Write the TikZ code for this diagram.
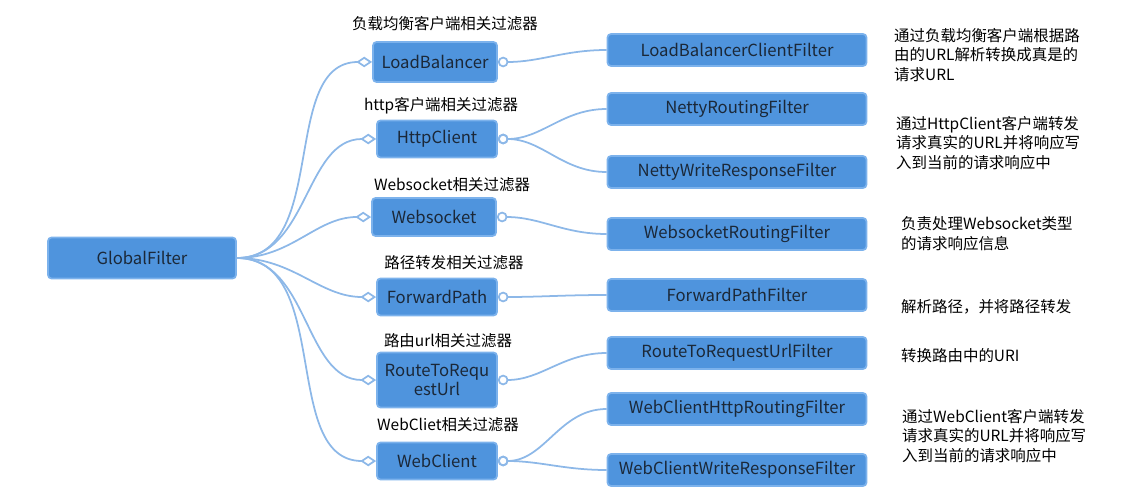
\documentclass[tikz,border=0pt]{standalone}
\usepackage{fontspec}
\setmainfont{Noto Sans CJK SC}
\usetikzlibrary{arrows.meta}
\definecolor{boxblue}{HTML}{4F94DD}
\definecolor{boxedge}{HTML}{7CB2EC}
\definecolor{linkblue}{HTML}{8DB8E8}
\definecolor{inktext}{HTML}{1B2838}

\begin{document}
\begin{tikzpicture}[x=0.02cm,y=-0.02cm,
  box/.style={draw=boxedge,line width=1pt,fill=boxblue,rounded corners=2pt,text=inktext,font=\fontsize{9.5}{11}\selectfont,align=center,inner sep=0pt},
  grouptitle/.style={font=\fontsize{8.8}{10}\selectfont,text=black},
  desc/.style={font=\fontsize{8.8}{11.3}\selectfont,align=left,anchor=west,text=black},
  tochild/.style={draw=linkblue,line width=1pt,-{Diamond[open,length=9pt,width=6pt]}},
  tofilter/.style={draw=linkblue,line width=1pt,{Circle[open,length=6pt]}-}]
  \useasboundingbox (0,0) rectangle (1129,500);

  %root
  \node[box,minimum width=188*0.02cm,minimum height=41*0.02cm] (gf) at (142,258) {GlobalFilter};

  %groups
  \node[box,minimum width=124*0.02cm,minimum height=40*0.02cm] (lb) at (435,62) {LoadBalancer};
  \node[grouptitle] (lbc) at (445,24) {负载均衡客户端相关过滤器};
  \node[box,minimum width=120*0.02cm,minimum height=37*0.02cm] (hc) at (437,139) {HttpClient};
  \node[grouptitle] (hcc) at (441,106) {http客户端相关过滤器};
  \node[box,minimum width=124*0.02cm,minimum height=38*0.02cm] (ws) at (434,217) {Websocket};
  \node[grouptitle] (wsc) at (452,185) {Websocket相关过滤器};
  \node[box,minimum width=120*0.02cm,minimum height=37*0.02cm] (fp) at (437,297) {ForwardPath};
  \node[grouptitle] (fpc) at (454,263) {路径转发相关过滤器};
  \node[box,minimum width=120*0.02cm,minimum height=55*0.02cm] (rt) at (437,380) {RouteToRequ\\estUrl};
  \node[grouptitle] (rtc) at (448,341) {路由url相关过滤器};
  \node[box,minimum width=120*0.02cm,minimum height=37*0.02cm] (wc) at (437,461) {WebClient};
  \node[grouptitle] (wcc) at (448,425) {WebCliet相关过滤器};

  %filters
  \node[box,minimum width=259*0.02cm,minimum height=32*0.02cm] (f1) at (737,50) {LoadBalancerClientFilter};
  \node[box,minimum width=259*0.02cm,minimum height=32*0.02cm] (f2) at (737,109) {NettyRoutingFilter};
  \node[box,minimum width=259*0.02cm,minimum height=32*0.02cm] (f3) at (737,172) {NettyWriteResponseFilter};
  \node[box,minimum width=259*0.02cm,minimum height=32*0.02cm] (f4) at (737,234) {WebsocketRoutingFilter};
  \node[box,minimum width=259*0.02cm,minimum height=32*0.02cm] (f5) at (737,295) {ForwardPathFilter};
  \node[box,minimum width=259*0.02cm,minimum height=32*0.02cm] (f6) at (737,353) {RouteToRequestUrlFilter};
  \node[box,minimum width=259*0.02cm,minimum height=32*0.02cm] (f7) at (737,409) {WebClientHttpRoutingFilter};
  \node[box,minimum width=259*0.02cm,minimum height=32*0.02cm] (f8) at (737,470) {WebClientWriteResponseFilter};

  %notes
  \node[desc] (d1) at (888,55) {通过负载均衡客户端根据路\\由的URL解析转换成真是的\\请求URL};
  \node[desc] (d2) at (890,143) {通过HttpClient客户端转发\\请求真实的URL并将响应写\\入到当前的请求响应中};
  \node[desc] (d3) at (895,234) {负责处理Websocket类型\\的请求响应信息};
  \node[desc] (d4) at (895,307) {解析路径，并将路径转发};
  \node[desc] (d5) at (895,356) {转换路由中的URI};
  \node[desc] (d6) at (896,436) {通过WebClient客户端转发\\请求真实的URL并将响应写\\入到当前的请求响应中};

  %links
  \foreach \g in {lb,hc,ws,fp,rt,wc}
    \draw[tochild] (gf.east) to[out=0,in=180] (\g.west);
  \draw[tofilter] (lb.east) to[out=0,in=180] (f1.west);
  \draw[tofilter] (hc.east) to[out=0,in=180] (f2.west);
  \draw[tofilter] (hc.east) to[out=0,in=180] (f3.west);
  \draw[tofilter] (ws.east) to[out=0,in=180] (f4.west);
  \draw[tofilter] (fp.east) to[out=0,in=180] (f5.west);
  \draw[tofilter] (rt.east) to[out=0,in=180] (f6.west);
  \draw[tofilter] (wc.east) to[out=0,in=180] (f7.west);
  \draw[tofilter] (wc.east) to[out=0,in=180] (f8.west);
\end{tikzpicture}
\end{document}
